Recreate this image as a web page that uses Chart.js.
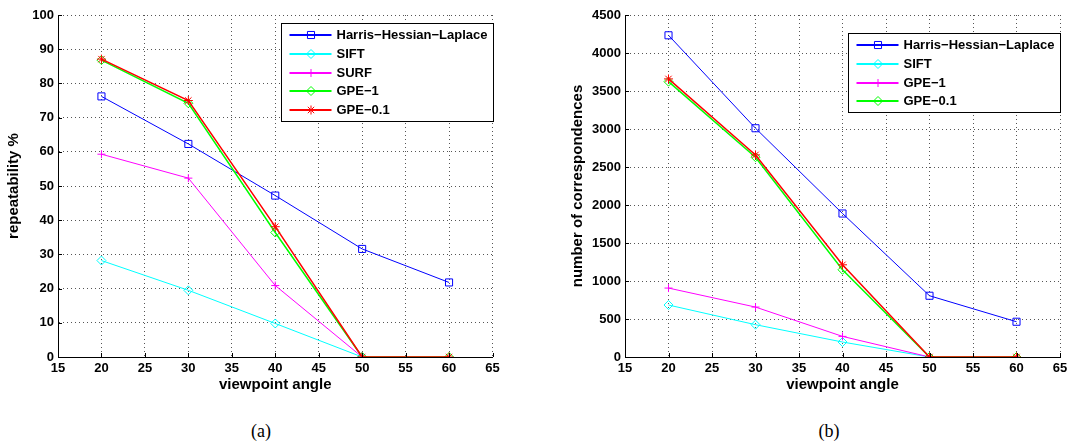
<!DOCTYPE html>
<html>
<head>
<meta charset="utf-8">
<script src="https://cdn.jsdelivr.net/npm/chart.js@4.4.1/dist/chart.umd.min.js"></script>
<style>
  html, body { margin: 0; padding: 0; background: #fff; }
  #wrap { position: relative; width: 1068px; height: 446px; overflow: hidden; }
  .panel { position: absolute; top: 0; width: 534px; height: 400px; }
  .caption { position: absolute; top: 421px; width: 60px; line-height: 20px; text-align: center;
             font-family: 'Liberation Serif', serif; font-size: 18px; color: #000; }
</style>
</head>
<body>
<div id="wrap">
  <div class="panel" style="left:0"><canvas id="chartA" width="534" height="400"></canvas></div>
  <div class="panel" style="left:534px"><canvas id="chartB" width="534" height="400"></canvas></div>
  <div class="caption" style="left:231px">(a)</div>
  <div class="caption" style="left:799px">(b)</div>
</div>
<script>
const angles = [20, 30, 40, 50, 60];

// (a) repeatability %
const repHarris = [76.2, 62.3, 47.2, 31.6, 21.8];
const repSift = [28.2, 19.5, 9.8, 0];
const repSurf = [59.3, 52.3, 20.9, 0];
const repGpe1 = [86.8, 74.2, 36.4, 0, 0];
const repGpe01 = [87.1, 75.0, 38.1, 0, 0];

// (b) number of correspondences
const corHarris = [4233, 3010, 1888, 806, 464];
const corSift = [684, 425, 197, 0];
const corGpe1 = [907, 657, 271, 0];
const corGpe01 = [3623, 2629, 1148, 0, 0];
const corExtra = [3659, 2659, 1213, 0, 0];

const xRange = [15, 65, 5];
const repRange = [0, 100, 10];
const corRange = [0, 4500, 500];

const FONT = "'Liberation Sans', Arial, Helvetica, sans-serif";

function pts(values) {
  return values.map((v, i) => ({ x: angles[i], y: v }));
}

function series(label, values, color, style, radius, width) {
  return {
    label: label,
    data: pts(values),
    borderColor: color,
    backgroundColor: 'rgba(0,0,0,0)',
    borderWidth: width,
    pointStyle: style,
    pointRadius: radius,
    pointBorderColor: color,
    pointBackgroundColor: 'rgba(0,0,0,0)',
    pointBorderWidth: 1,
    pointHoverRadius: radius,
    tension: 0
  };
}

// legend box drawn inside the plot, line + marker like the original
const boxLegend = {
  id: 'boxLegend',
  afterDraw(chart, args, opts) {
    const ctx = chart.ctx;
    const area = chart.chartArea;
    const items = chart.data.datasets.filter(d => d.label);
    ctx.save();
    ctx.font = 'bold 13px ' + FONT;
    const textW = Math.max(...items.map(d => ctx.measureText(d.label).width));
    const rowH = 18.7;
    const w = Math.round(55 + textW + 6);
    const h = Math.round(items.length * rowH + 4);
    const right = Math.round(area.right) + 0.5;
    const left = right - w;
    const top = Math.round(area.top + opts.top) + 0.5;
    ctx.fillStyle = '#fff';
    ctx.fillRect(left, top, w, h);
    ctx.strokeStyle = '#000';
    ctx.lineWidth = 1;
    ctx.strokeRect(left, top, w, h);
    items.forEach((d, i) => {
      const y = Math.round(top + 11.7 + i * rowH);
      ctx.strokeStyle = d.borderColor;
      ctx.lineWidth = 2;
      ctx.beginPath();
      ctx.moveTo(left + 8, y);
      ctx.lineTo(left + 50, y);
      ctx.stroke();
      ctx.lineWidth = 1;
      ctx.fillStyle = 'rgba(0,0,0,0)';
      Chart.helpers.drawPoint(ctx, { pointStyle: d.pointStyle, radius: d.pointRadius, rotation: 0, borderWidth: 1 }, left + 29.5, y);
      ctx.fillStyle = '#000';
      ctx.textAlign = 'left';
      ctx.textBaseline = 'middle';
      ctx.fillText(d.label, left + 55, y + 0.5);
    });
    ctx.restore();
  }
};

// MATLAB style ticks pointing into the plot
const inwardTicks = {
  id: 'inwardTicks',
  afterDatasetsDraw(chart) {
    const { ctx, chartArea: a, scales } = chart;
    ctx.save();
    ctx.strokeStyle = '#000';
    ctx.lineWidth = 1;
    ctx.beginPath();
    scales.x.ticks.forEach(t => {
      const px = Math.round(scales.x.getPixelForValue(t.value)) + 0.5;
      ctx.moveTo(px, a.bottom);
      ctx.lineTo(px, a.bottom - 4);
    });
    scales.y.ticks.forEach(t => {
      const py = Math.round(scales.y.getPixelForValue(t.value)) + 0.5;
      ctx.moveTo(a.left, py);
      ctx.lineTo(a.left + 4, py);
    });
    ctx.stroke();
    ctx.restore();
  }
};

function makeChart(id, datasets, yRange, yTitle, cfg) {
  // later series drawn on top
  datasets.forEach((d, i) => { d.order = datasets.length - i; });
  return new Chart(document.getElementById(id), {
    type: 'line',
    data: { datasets: datasets },
    options: {
      responsive: false,
      animation: false,
      devicePixelRatio: 1,
      layout: { padding: { top: 15, right: cfg.padRight, left: cfg.padLeft, bottom: 0 } },
      plugins: {
        legend: { display: false },
        tooltip: { enabled: false },
        boxLegend: { top: cfg.legendTop }
      },
      scales: {
        x: {
          type: 'linear',
          min: xRange[0], max: xRange[1],
          ticks: { stepSize: xRange[2], padding: 4, color: '#000', font: { family: FONT, size: 13, weight: 'bold' },
                   callback: v => String(v) },
          grid: { color: '#555', lineWidth: 1, drawTicks: false },
          border: { display: true, color: '#000', width: 1, dash: [1, 3] },
          title: { display: true, text: 'viewpoint angle', color: '#000', padding: { top: 0, bottom: 6 },
                   font: { family: FONT, size: 15, weight: 'bold' } },
          afterFit(s) { s.height = 43; s.paddingLeft = 0; s.paddingRight = 0; }
        },
        y: {
          type: 'linear',
          min: yRange[0], max: yRange[1],
          ticks: { stepSize: yRange[2], padding: 4, color: '#000', font: { family: FONT, size: 13, weight: 'bold' },
                   callback: v => String(v) },
          grid: { color: '#555', lineWidth: 1, drawTicks: false },
          border: { display: true, color: '#000', width: 1, dash: [1, 3] },
          title: { display: true, text: yTitle, color: '#000', padding: { top: 5, bottom: 0 },
                   font: { family: FONT, size: 15, weight: 'bold' } },
          afterFit(s) { s.width = cfg.yWidth; s.paddingTop = 0; s.paddingBottom = 0; }
        }
      }
    },
    plugins: [inwardTicks, boxLegend]
  });
}

makeChart('chartA', [
  series('Harris\u2212Hessian\u2212Laplace', repHarris, '#0000ff', 'rect', 5, 1),
  series('SIFT', repSift, '#00ffff', 'rectRot', 4.5, 1),
  series('SURF', repSurf, '#ff00ff', 'cross', 4, 1),
  series('GPE\u22121', repGpe1, '#00ff00', 'rectRot', 4.5, 1.5),
  series('GPE\u22120.1', repGpe01, '#ff0000', 'star', 4.5, 1.5)
], repRange, 'repeatability %', { padLeft: 0, padRight: 41.5, yWidth: 58, legendTop: 8 });

makeChart('chartB', [
  series('Harris\u2212Hessian\u2212Laplace', corHarris, '#0000ff', 'rect', 5, 1),
  series('SIFT', corSift, '#00ffff', 'rectRot', 4.5, 1),
  series('GPE\u22121', corGpe1, '#ff00ff', 'cross', 4, 1),
  series('GPE\u22120.1', corGpe01, '#00ff00', 'rectRot', 4.5, 1.5),
  series('', corExtra, '#ff0000', 'star', 4.5, 1.5)
], corRange, 'number of correspondences', { padLeft: 30, padRight: 8, yWidth: 61, legendTop: 18 });
</script>
</body>
</html>
